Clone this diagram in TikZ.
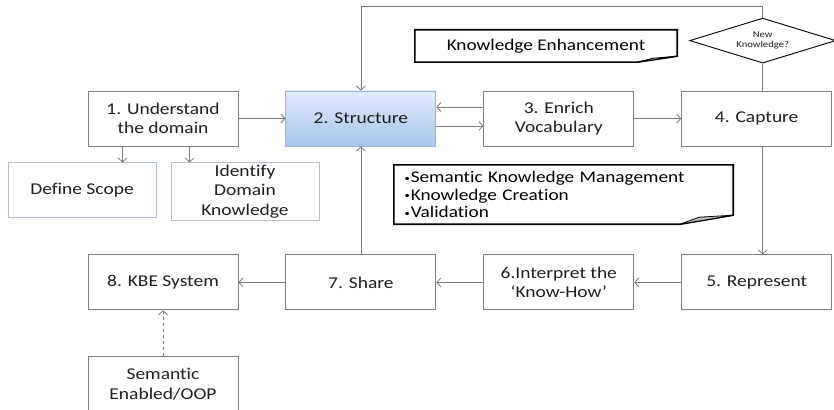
\documentclass[tikz,border=0pt]{standalone}
\usepackage{fontspec}
\setmainfont{Carlito}[FakeStretch=1.18, Ligatures=NoCommon]
\usepackage{xcolor}
\usetikzlibrary{arrows.meta,positioning,shapes.geometric}

\definecolor{boxgray}{RGB}{128,128,128}
\definecolor{linegray}{RGB}{120,120,120}
\definecolor{paleedge}{RGB}{180,192,208}
\definecolor{txt}{RGB}{30,30,30}
\definecolor{blueedge}{RGB}{150,180,218}
\definecolor{bluetop}{RGB}{226,235,250}
\definecolor{bluebot}{RGB}{168,196,236}
\definecolor{foldgray}{RGB}{190,190,190}

\newcommand{\bul}{\raisebox{1.5pt}{\fontsize{9}{9}\selectfont\textbullet}\hspace{1pt}}

\begin{document}
\begin{tikzpicture}[
    x=1pt, y=1pt,
    node distance=47pt,
    st/.style={draw=boxgray, line width=0.9pt, minimum width=150pt, minimum height=55pt,
      align=center, text=txt, inner sep=2pt, font=\fontsize{16.5}{19.5}\selectfont},
    sub/.style={st, draw=paleedge, minimum width=148pt},
    arr/.style={draw=linegray, line width=0.8pt, -{Straight Barb[length=4pt,width=9pt]}},
    note/.style={inner sep=0pt, text=black, font=\fontsize{16.3}{17.5}\selectfont},
    dia/.style={diamond, draw=black, line width=0.9pt, aspect=3.2, inner sep=0pt,
      minimum width=146pt, minimum height=45pt, align=center, text=txt,
      font=\fontsize{9}{10}\selectfont}
  ]
  \useasboundingbox (0,0) rectangle (834,-409);

  % top row
  \node[st] (b1) at (163,-118.5) {1. Understand\\the domain};
  \node[st, right=of b1, draw=blueedge, top color=bluetop, bottom color=bluebot] (b2) {2. Structure};
  \node[st, right=of b2] (b3) {3. Enrich\\Vocabulary};
  \node[st, right=of b3] (b4) {4. Capture};

  % bottom row, right to left
  \node[st, below=108pt of b4] (b5) {5. Represent};
  \node[st, left=of b5] (b6) {6.Interpret the\\`Know-How'};
  \node[st, left=of b6] (b7) {7. Share};
  \node[st, left=of b7] (b8) {8. KBE System};
  \node[st, below=46pt of b8] (sem) {Semantic\\Enabled/OOP};

  % domain sub-tasks
  \node[sub, below=16pt of b1, xshift=-81pt] (scope) {Define Scope};
  \node[sub, below=16pt of b1, xshift=82pt] (ident) {Identify\\Domain\\Knowledge};

  % decision and notes
  \node[dia, above=27pt of b4, xshift=6pt] (nk) {New\\Knowledge?};
  \node[note, minimum width=262pt, minimum height=32pt] (ke) at (546,-46) {Knowledge Enhancement};
  \node[note, text width=318pt, inner xsep=10.5pt, minimum height=59pt, align=left] (sk) at (563.5,-194.5)
    {\bul Semantic Knowledge Management\\\bul Knowledge Creation\\\bul Validation};

  \draw[line width=1.6pt] (ke.north west) -- (ke.north east) -- ([yshift=6pt]ke.south east)
    -- ([xshift=-40pt]ke.south east) -- (ke.south west) -- cycle;
  \filldraw[fill=foldgray, line width=0.8pt] ([xshift=-40pt]ke.south east) -- ([yshift=6pt]ke.south east)
    -- ([xshift=-24pt,yshift=4pt]ke.south east) -- cycle;
  \draw[line width=1.6pt] (sk.north west) -- (sk.north east) -- ([yshift=9pt]sk.south east)
    -- ([xshift=-53pt]sk.south east) -- (sk.south west) -- cycle;
  \filldraw[fill=foldgray, line width=0.8pt] ([xshift=-53pt]sk.south east) -- ([yshift=9pt]sk.south east)
    -- ([xshift=-34pt,yshift=7pt]sk.south east) -- cycle;

  % connectors
  \draw[arr] (b1) -- (b2);
  \draw[arr] ([yshift=11.5pt]b3.west) -- ([yshift=11.5pt]b2.east);
  \draw[arr] ([yshift=-7.5pt]b2.east) -- ([yshift=-7.5pt]b3.west);
  \draw[arr] (b3) -- (b4);
  \draw[draw=linegray, line width=0.8pt] (nk.south) -- (nk.south |- b4.north);
  \draw[arr] (nk.north) -- ++(0,11) -| (b2.north);
  \draw[arr] ([xshift=6pt]b4.south) -- ([xshift=6pt]b5.north);
  \draw[arr] (b5) -- (b6);
  \draw[arr] (b6) -- (b7);
  \draw[arr] (b7) -- (b8);
  \draw[arr] (b7) -- (b2);
  \draw[arr, dashed] (sem) -- (b8);
  \draw[arr] ([xshift=35pt]b1.south west) coordinate (d1) -- (d1 |- scope.north);
  \draw[arr] ([xshift=102pt]b1.south west) coordinate (d2) -- (d2 |- ident.north);
\end{tikzpicture}
\end{document}
